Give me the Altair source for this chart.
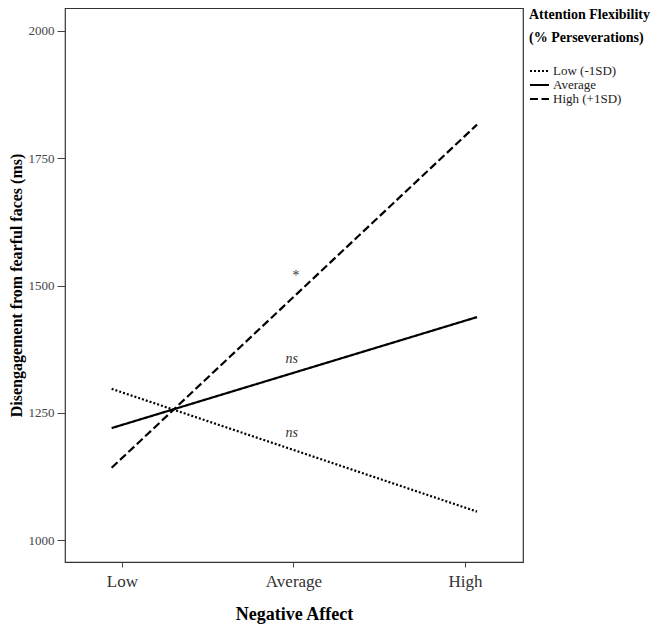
import altair as alt
import pandas as pd

groups = ["Low (-1SD)", "Average", "High (+1SD)"]
x_pos = [-0.06, 2.07]
low_vals = [1297, 1056]
avg_vals = [1220, 1438]
high_vals = [1142, 1816]

tick_vals = [0, 1, 2]
tick_labels = ["Low", "Average", "High"]

ann_x = [1.01, 0.99, 0.99]
ann_y = [1519, 1356, 1211]
ann_text = ["*", "ns", "ns"]

rows = []
for g, vals in zip(groups, [low_vals, avg_vals, high_vals]):
    for x, v in zip(x_pos, vals):
        rows.append({"na": x, "val": v, "group": g})
df = pd.DataFrame(rows)
ann = pd.DataFrame({"na": ann_x, "val": ann_y, "txt": ann_text})

label_expr = ("datum.value == 0 ? '%s' : datum.value == 1 ? '%s' : '%s'"
              % tuple(tick_labels))

xscale = alt.Scale(domain=[-0.332, 2.338], nice=False, zero=False)
yscale = alt.Scale(domain=[957, 2045], nice=False, zero=False)

lines = alt.Chart(df).mark_line(color="black", strokeWidth=2.2).encode(
    x=alt.X("na:Q", scale=xscale,
            axis=alt.Axis(values=tick_vals, labelExpr=label_expr, title="Negative Affect",
                          grid=False, domain=False, tickSize=5, tickColor="#444",
                          labelFont="Liberation Serif", labelFontSize=17, labelColor="#333",
                          labelPadding=6, titleFont="Liberation Serif", titleFontSize=18,
                          titleFontWeight="bold", titleColor="black", titlePadding=16)),
    y=alt.Y("val:Q", scale=yscale,
            axis=alt.Axis(values=[1000, 1250, 1500, 1750, 2000], format="d",
                          title="Disengagement from fearful faces (ms)",
                          grid=False, domain=False, tickSize=8, tickColor="#444",
                          labelFont="Liberation Serif", labelFontSize=13, labelColor="#444",
                          labelPadding=3, titleFont="Liberation Serif", titleFontSize=16,
                          titleFontWeight="bold", titleColor="black", titlePadding=4)),
    strokeDash=alt.StrokeDash("group:N",
        scale=alt.Scale(domain=groups, range=[[2, 2], [1, 0], [8, 3.5]]),
        legend=alt.Legend(title=["Attention Flexibility", "(% Perseverations)"],
                          orient="none", legendX=464, legendY=0,
                          titleFont="Liberation Serif", titleFontSize=14, titleFontWeight="bold",
                          titleColor="black", titleLineHeight=23, titlePadding=19,
                          titleLimit=200,
                          labelFont="Liberation Serif", labelFontSize=13, labelColor="#222",
                          symbolType="stroke", symbolSize=361, symbolStrokeWidth=2,
                          symbolStrokeColor="black", rowPadding=0, clipHeight=14,
                          labelOffset=3)),
    detail="group:N",
)

texts = alt.Chart(ann).mark_text(font="Liberation Serif", fontSize=14, fontStyle="italic",
                                 color="#333").encode(
    x=alt.X("na:Q", scale=xscale), y=alt.Y("val:Q", scale=yscale), text="txt:N")

chart = alt.layer(lines, texts).properties(
    width=458, height=554,
    background="white",
    autosize=alt.AutoSizeParams(type="none"),
    padding={"left": 57, "top": 0, "right": 135, "bottom": 63},
).configure_view(stroke="#333", strokeWidth=1.2)

chart.save("out.html", embed_options={"renderer": "svg", "actions": False})
